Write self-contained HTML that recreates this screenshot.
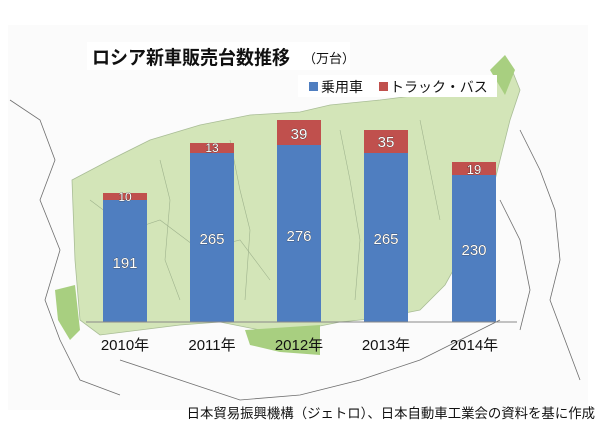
<!DOCTYPE html>
<html><head><meta charset="utf-8"><style>
body{margin:0;width:600px;height:433px;overflow:hidden;background:#fff;font-family:"Liberation Sans","Noto Sans CJK JP",sans-serif;}
</style></head><body>
<svg width="600" height="433" viewBox="0 0 600 433" xmlns="http://www.w3.org/2000/svg" style="position:absolute;left:0;top:0">
<rect x="8" y="25" width="580" height="385" fill="#fbfbfb"/>
<path d="M72,180 L110,160 L150,140 L200,125 L250,115 L300,112 L330,105 L380,100 L420,95 L460,90 L490,80 L510,65 L520,90 L510,120 L500,160 L490,200 L470,240 L445,285 L420,310 L380,318 L340,322 L300,330 L260,330 L220,322 L180,325 L140,330 L100,335 L80,320 L75,260 Z" fill="#d3e5b8" stroke="#a9bd96" stroke-width="0.8"/>
<g fill="none" stroke="#9fb38d" stroke-width="0.6">
<path d="M90,200 L130,230 L160,220 L200,250 L240,240 L270,280"/>
<path d="M160,160 L170,200 L165,260 L180,300"/>
<path d="M230,140 L240,190 L250,230 L245,300"/>
<path d="M340,130 L350,180 L360,240 L355,300"/>
<path d="M420,120 L430,170 L440,220"/>
</g>
<path d="M55,290 L75,285 L80,330 L70,340 L58,320 Z" fill="#a8cf80"/>
<path d="M245,330 L320,325 L320,355 L280,352 L250,345 Z" fill="#a8cf80"/>
<path d="M490,70 L505,55 L515,70 L505,95 Z" fill="#a8cf80"/>
<g fill="none" stroke="#333" stroke-width="0.8" opacity="0.7">
<path d="M10,100 L40,120 L55,160 L40,200 L60,250 L45,300 L60,340 L80,380 L120,395"/>
<path d="M120,360 L180,380 L240,400 L300,395 L360,380 L420,360 L460,340 L500,320"/>
<path d="M520,130 L540,170 L555,210 L560,260 L550,300 L565,340 L580,380"/>
<path d="M500,200 L520,240 L530,290 L520,330"/>
</g>
<rect x="87" y="42" width="263" height="28" fill="#fff"/>
<text x="92" y="64" font-size="19" font-weight="bold" fill="#111" textLength="198" lengthAdjust="spacingAndGlyphs">ロシア新車販売台数推移</text>
<text x="303" y="63" font-size="13" fill="#111">（万台）</text>
<rect x="298" y="75" width="199" height="22" fill="#fff"/>
<rect x="309" y="82" width="9" height="9" fill="#4f7ec0"/>
<text x="321" y="92" font-size="14" fill="#111">乗用車</text>
<rect x="379" y="82" width="9" height="9" fill="#c0504d"/>
<text x="390" y="92" font-size="14" fill="#111">トラック・バス</text>
<g>
<rect x="103" y="200" width="44" height="122" fill="#4f7ec0"/><rect x="103" y="193" width="44" height="7" fill="#c0504d"/>
<rect x="190" y="153" width="44" height="169" fill="#4f7ec0"/><rect x="190" y="143" width="44" height="10" fill="#c0504d"/>
<rect x="277" y="145" width="44" height="177" fill="#4f7ec0"/><rect x="277" y="120" width="44" height="25" fill="#c0504d"/>
<rect x="364" y="153" width="44" height="169" fill="#4f7ec0"/><rect x="364" y="130" width="44" height="23" fill="#c0504d"/>
<rect x="452" y="175" width="44" height="147" fill="#4f7ec0"/><rect x="452" y="162" width="44" height="13" fill="#c0504d"/>
</g>
<line x1="86" y1="322" x2="517" y2="322" stroke="#888" stroke-width="1"/>
<g font-size="15" fill="#fff" text-anchor="middle" stroke="#333" stroke-width="0.6" paint-order="stroke">
<text x="125" y="268">191</text><text x="212" y="244">265</text><text x="299" y="241">276</text><text x="386" y="244">265</text><text x="474" y="255">230</text>
<text x="125" y="201" font-size="12">10</text><text x="212" y="152" font-size="12">13</text><text x="299" y="139">39</text><text x="386" y="147">35</text><text x="474" y="174" font-size="13">19</text>
</g>
<g font-size="15" fill="#111" text-anchor="middle">
<text x="125" y="350">2010年</text><text x="212" y="350">2011年</text><text x="299" y="350">2012年</text><text x="386" y="350">2013年</text><text x="474" y="350">2014年</text>
</g>
<text x="595" y="418" font-size="13.4" fill="#111" text-anchor="end">日本貿易振興機構（ジェトロ）、日本自動車工業会の資料を基に作成</text>
</svg>
</body></html>
